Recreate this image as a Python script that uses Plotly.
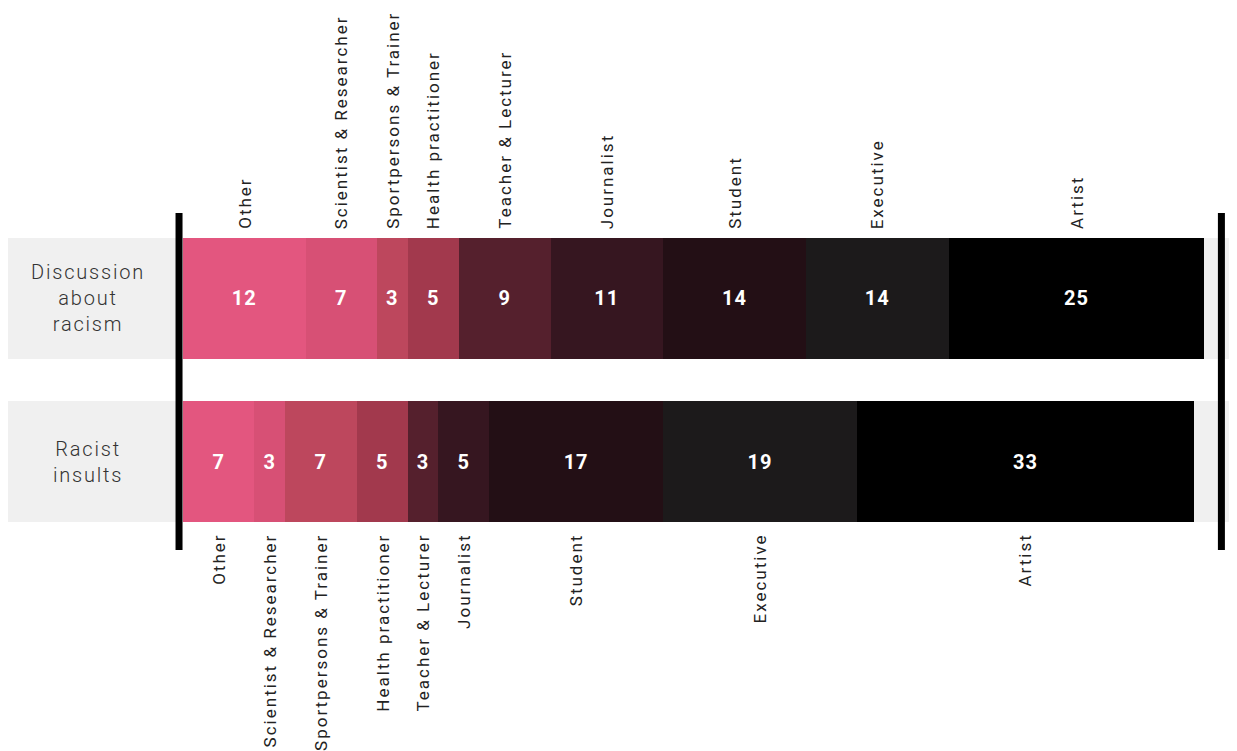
import plotly.graph_objects as go

# =========================
# DATA
# =========================
rows = ["Discussion about racism", "Racist insults"]
row_labels = ["Discussion<br>about<br>racism", "Racist<br>insults"]
categories = [
    "Other", "Scientist & Researcher", "Sportpersons & Trainer", "Health practitioner",
    "Teacher & Lecturer", "Journalist", "Student", "Executive", "Artist",
]
discussion = [12, 7, 3, 5, 9, 11, 14, 14, 25]
insults = [7, 3, 7, 5, 3, 5, 17, 19, 33]
colors = [
    "#E3567F", "#D75075", "#BD475D", "#A2394D", "#55202D",
    "#361620", "#230F15", "#1C1A1B", "#000000",
]


def spaced(txt, px):
    # letter-spaced text (tspan style)
    return f'<span style="letter-spacing:{px}px">{txt}</span>'


def centers(values):
    out, acc = [], 0
    for v in values:
        out.append(acc + v / 2)
        acc += v
    return out


# =========================
# CHART
# =========================
fig = go.Figure()
for i, cat in enumerate(categories):
    vals = [discussion[i], insults[i]]
    fig.add_trace(go.Bar(
        y=rows, x=vals, orientation="h", name=cat,
        marker=dict(color=colors[i], line=dict(width=0)),
        width=0.742,
        text=[spaced(v, 1) for v in vals],
        textposition="inside", insidetextanchor="middle",
        textfont=dict(family="Roboto", size=20, color="white", weight="bold"),
        hoverinfo="skip",
    ))

annotations = []
# segment names above the top bar, below the bottom bar
for cat, cx in zip(categories, centers(discussion)):
    annotations.append(dict(
        x=cx, y=-0.414, xref="x", yref="y", text=spaced(cat, 2), showarrow=False,
        textangle=-90, xanchor="center", yanchor="bottom",
        font=dict(family="Roboto", size=17, color="#222"),
    ))
for cat, cx in zip(categories, centers(insults)):
    annotations.append(dict(
        x=cx, y=1.43, xref="x", yref="y", text=spaced(cat, 2), showarrow=False,
        textangle=-90, xanchor="center", yanchor="top",
        font=dict(family="Roboto", size=17, color="#222"),
    ))
# row labels on the grey band
for r, lab in zip(rows, row_labels):
    annotations.append(dict(
        x=-9.3, y=r, xref="x", yref="y", text=spaced(lab, 1.8), showarrow=False,
        xanchor="center", yanchor="middle", align="center",
        font=dict(family="Roboto", size=20, color="#333", weight=300),
    ))

shapes = []
for k in range(len(rows)):
    shapes.append(dict(
        type="rect", xref="x", yref="y", x0=-17.14, x1=104.5,
        y0=k - 0.371, y1=k + 0.371, fillcolor="#F0F0F0",
        line=dict(width=0), layer="below",
    ))
for xv in [-0.39, 101.7]:
    shapes.append(dict(
        type="line", xref="x", yref="y", x0=xv, x1=xv, y0=-0.5245, y1=1.543,
        line=dict(color="black", width=7), layer="above",
    ))

fig.update_layout(
    width=1237, height=751,
    barmode="stack",
    showlegend=False,
    margin=dict(l=0, r=0, t=0, b=0),
    paper_bgcolor="white", plot_bgcolor="white",
    xaxis=dict(range=[-17.14, 104.01], visible=False, fixedrange=True),
    yaxis=dict(range=[2.825, -1.782], visible=False, fixedrange=True),
    uniformtext=dict(minsize=20, mode="show"),
    annotations=annotations,
    shapes=shapes,
    hovermode=False,
)

fig.write_html("out.html")
